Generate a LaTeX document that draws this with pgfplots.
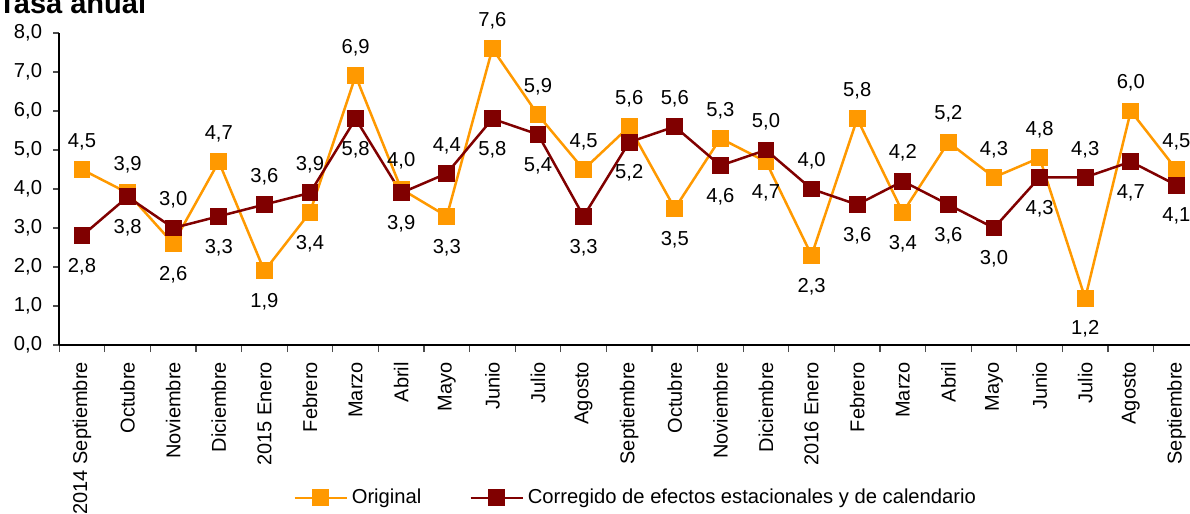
\documentclass[border=0pt]{standalone}
\usepackage{pgfplots}
\pgfplotsset{compat=1.18}
\usepackage{pgfplotstable}
\usepackage{fontspec}
\setmainfont{Liberation Sans}
\definecolor{origc}{HTML}{FF9900}
\definecolor{corrc}{HTML}{800000}

\pgfplotstableread{
x y off
0 4.5 14
1 3.9 14
2 2.6 -15.5
3 4.7 14
4 1.9 -15.5
5 3.4 -15.5
6 6.9 14
7 4.0 14
8 3.3 -15.5
9 7.6 14
10 5.9 14
11 4.5 14
12 5.6 14
13 3.5 -15.5
14 5.3 14
15 4.7 -15.5
16 2.3 -15.5
17 5.8 14
18 3.4 -15.5
19 5.2 14
20 4.3 14
21 4.8 14
22 1.2 -15.5
23 6.0 14
24 4.5 14
}\original

\pgfplotstableread{
x y off
0 2.8 -15.5
1 3.8 -15.5
2 3.0 14
3 3.3 -15.5
4 3.6 14
5 3.9 14
6 5.8 -15.5
7 3.9 -15.5
8 4.4 14
9 5.8 -15.5
10 5.4 -15.5
11 3.3 -15.5
12 5.2 -15.5
13 5.6 14
14 4.6 -15.5
15 5.0 14
16 4.0 14
17 3.6 -15.5
18 4.2 14
19 3.6 -15.5
20 3.0 -15.5
21 4.3 -15.5
22 4.3 14
23 4.7 -15.5
24 4.1 -15.5
}\corregido

\begin{document}
\fontsize{10.1}{12}\selectfont
\begin{tikzpicture}
\useasboundingbox (-29.6pt,-84.5pt) rectangle (565.4pt,172.5pt);
\node[anchor=base west, font=\fontsize{14.5}{16}\selectfont\bfseries, inner sep=0pt] at (-30.6pt,165.5pt) {Tasa anual};
\begin{axis}[
  at={(0,0)}, anchor=south west,
  scale only axis,
  width=570pt, height=156pt,
  xmin=-0.5, xmax=24.5,
  ymin=0, ymax=8,
  clip=false,
  axis x line*=bottom,
  axis y line*=left,
  axis line style={black, line width=0.8pt},
  tick align=outside,
  major tick length=3pt,
  minor tick length=3.5pt,
  xtick={0,...,24},
  minor xtick={-0.5,0.5,...,24.5},
  major x tick style={draw=none},
  minor x tick style={black!70, line width=0.6pt},
  ytick={0,1,...,8},
  y tick style={black!70, line width=0.6pt},
  xticklabels={2014 Septiembre,Octubre,Noviembre,Diciembre,2015 Enero,Febrero,Marzo,Abril,Mayo,Junio,Julio,Agosto,Septiembre,Octubre,Noviembre,Diciembre,2016 Enero,Febrero,Marzo,Abril,Mayo,Junio,Julio,Agosto,Septiembre},
  xticklabel style={rotate=90, anchor=east, font=\fontsize{10}{12}\selectfont, xshift=-2pt},
  yticklabel style={font=\fontsize{10.1}{12}\selectfont, xshift=-2pt},
  y tick label style={/pgf/number format/.cd, fixed, fixed zerofill, precision=1, use comma},
  /pgf/number format/assume math mode=true,
  legend columns=2,
  legend style={draw=none, fill=none, at={(0.205,-0.49)}, anchor=west, inner sep=0pt,
    font=\fontsize{10.1}{12}\selectfont, /tikz/every even column/.append style={column sep=22pt}},
  legend image code/.code={
    \draw[#1] (0pt,0pt) -- (26pt,0pt);
    \draw[#1, only marks] plot coordinates {(13pt,0pt)};
  },
  nodes near coords={\pgfmathprintnumber[fixed,fixed zerofill,precision=1,use comma,assume math mode=true]{\pgfplotspointmeta}},
  point meta=y,
  visualization depends on={\thisrow{off} \as \off},
  every node near coord/.append style={anchor=center, yshift=\off pt, text=black, font=\fontsize{10.1}{12}\selectfont, inner sep=0pt},
]
\addplot[origc, line width=1.25pt, mark=square*, mark size=3.6pt, mark options={solid, fill=origc, draw=origc}] table[x=x,y=y] {\original};
\addlegendentry{Original}
\addplot[corrc, line width=1.25pt, mark=square*, mark size=3.6pt, mark options={solid, fill=corrc, draw=corrc}] table[x=x,y=y] {\corregido};
\addlegendentry{Corregido de efectos estacionales y de calendario}
\end{axis}
\end{tikzpicture}
\end{document}
